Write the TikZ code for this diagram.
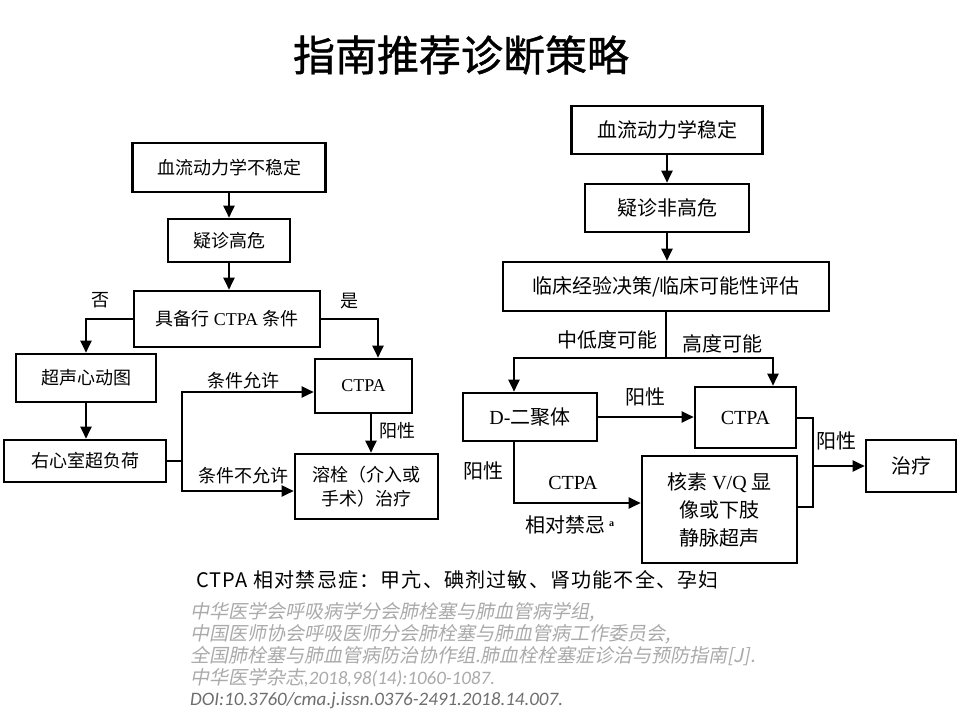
\documentclass[tikz,border=0pt]{standalone}
\usepackage{fontspec}
\setmainfont{Liberation Serif}
\newfontfamily\cjk{Noto Sans CJK SC}
\newfontfamily\notecjk[LetterSpace=6]{Noto Sans CJK SC}
\newfontfamily\titlezh[FakeBold=1]{Noto Sans CJK SC}
\newfontfamily\citezh[FakeSlant=0.2]{Noto Sans CJK SC}
\newfontfamily\citela{Carlito}
\usetikzlibrary{arrows.meta}
\definecolor{citegray}{RGB}{170,170,170}
\definecolor{doigray}{RGB}{110,110,110}
\begin{document}
\begin{tikzpicture}[x=1pt,y=-1pt,
 box/.style={draw=black, line width=2.6pt, rectangle, inner sep=0pt, align=center, font=\fontsize{18}{24}\selectfont},
 rbox/.style={box, font=\fontsize{20}{28}\selectfont},
 lbl/.style={inner sep=0pt, font=\fontsize{18}{22}\selectfont},
 rlbl/.style={inner sep=0pt, font=\fontsize{20}{24}\selectfont},
 arr/.style={line width=2pt, -{Triangle[length=12pt,width=11pt]}},
 ln/.style={line width=2pt},
 citestyle/.style={anchor=west, inner sep=0pt, text=citegray, font=\citezh\fontsize{19}{22}\selectfont}]
\fill[white] (0,0) rectangle (960,720);
\useasboundingbox (0,0) rectangle (960,720);

% title
\node[font=\titlezh\fontsize{42}{50}\selectfont] (title) at (461,55) {指南推荐诊断策略};

% left chart
\node[box, minimum width=193pt, minimum height=49pt] (L1) at (229,167.5) {\cjk 血流动力学不稳定};
\node[box, minimum width=122pt, minimum height=43pt] (L2) at (229,240.5) {\cjk 疑诊高危};
\node[box, minimum width=186pt, minimum height=56pt] (L3) at (227,319) {{\cjk 具备行} CTPA {\cjk 条件}};
\node[box, minimum width=140pt, minimum height=48pt] (L4) at (86,378) {\cjk 超声心动图};
\node[box, minimum width=162pt, minimum height=42pt] (L5) at (85,461) {\cjk 右心室超负荷};
\node[box, minimum width=97pt, minimum height=54pt] (L6) at (363.5,386) {CTPA};
\node[box, minimum width=143pt, minimum height=65pt] (L7) at (366.5,486.5) {{\cjk 溶栓（介入或}\\{\cjk 手术）治疗}};

\draw[arr] (L1.south) -- (L1.south |- L2.north);
\draw[arr] (L2.south) -- (L2.south |- L3.north);
\draw[arr] (L3.west) -| (L4.north);
\draw[arr] (L3.east) -| ([xshift=14.5pt]L6.north);
\draw[arr] (L4.south) -- (L4.south |- L5.north);
\coordinate (s1) at (182,461);
\draw[ln] (L5.east) -- (s1);
\draw[arr] (s1) |- ([yshift=-6pt]L6.west);
\draw[arr] (s1) |- ([yshift=-4.5pt]L7.west);
\draw[arr] ([xshift=7.5pt]L6.south) -- ([xshift=7.5pt]L6.south |- L7.north);

\node[lbl] (no) at (100,300) {\cjk 否};
\node[lbl] (yes) at (349,301) {\cjk 是};
\node[lbl] (c1) at (243,381) {\cjk 条件允许};
\node[lbl] (c2) at (243,476) {\cjk 条件不允许};
\node[lbl] (p1) at (397,431) {\cjk 阳性};

% right chart
\node[rbox, minimum width=191pt, minimum height=48pt] (R1) at (667,130) {\cjk 血流动力学稳定};
\node[rbox, minimum width=164pt, minimum height=48pt] (R2) at (667,208) {\cjk 疑诊非高危};
\node[rbox, minimum width=326pt, minimum height=49pt] (R3) at (666,286.5) {\cjk 临床经验决策/临床可能性评估};
\node[rbox, minimum width=134pt, minimum height=48pt] (D) at (530,417) {D-{\cjk 二聚体}};
\node[rbox, minimum width=101pt, minimum height=61pt] (RC) at (745.5,417.5) {CTPA};
\node[rbox, minimum width=155pt, minimum height=107pt] (N) at (719.5,509.5) {{\cjk 核素} V/Q {\cjk 显}\\{\cjk 像或下肢}\\{\cjk 静脉超声}};
\node[rbox, minimum width=90pt, minimum height=52pt] (T) at (911,466) {\cjk 治疗};

\draw[arr] (R1.south) -- (R1.south |- R2.north);
\draw[arr] (R2.south) -- (R2.south |- R3.north);
\coordinate (m) at (666,358);
\draw[ln] (R3.south) -- (m);
\draw[arr] (m) -| ([xshift=-16pt]D.north);
\draw[arr] (m) -| ([xshift=27.5pt]RC.north);
\draw[arr] (D.east) -- (D.east -| RC.west);
\draw[arr] ([xshift=-16pt]D.south) |- ([yshift=6.5pt]N.west);
\coordinate (jt) at (813,466);
\draw[ln] (RC.east) -| (jt);
\draw[ln] ([yshift=2.5pt]N.east) -| (jt);
\draw[arr] (jt) -- (T.west);

\node[rlbl, anchor=east] (lo) at (658,340) {\cjk 中低度可能};
\node[rlbl] (hi) at (722,344) {\cjk 高度可能};
\node[rlbl] (p2) at (645,397) {\cjk 阳性};
\node[rlbl] (p3) at (483,471) {\cjk 阳性};
\node[rlbl] (ct) at (573,483) {CTPA};
\node[rlbl] (rc) at (570,525) {{\cjk 相对禁忌}\,\raisebox{6pt}{\fontsize{10}{10}\selectfont\bfseries a}};
\node[rlbl] (p4) at (836,441) {\cjk 阳性};

% bottom notes
\node[anchor=west, inner sep=0pt, font=\notecjk\fontsize{20}{22}\selectfont] (ci) at (196,580) {CTPA 相对禁忌症：甲亢、碘剂过敏、肾功能不全、孕妇};
\node[citestyle] (r1) at (190,612) {中华医学会呼吸病学分会肺栓塞与肺血管病学组,};
\node[citestyle] (r2) at (190,634) {中国医师协会呼吸医师分会肺栓塞与肺血管病工作委员会,};
\node[citestyle] (r3) at (190,656) {全国肺栓塞与肺血管病防治协作组.肺血栓栓塞症诊治与预防指南[J].};
\node[citestyle] (r4) at (190,678) {中华医学杂志{\citela\itshape ,2018,98(14):1060-1087.}};
\node[citestyle, text=doigray] (r5) at (190,701) {{\citela\itshape DOI:10.3760/cma.j.issn.0376-2491.2018.14.007.}};
\end{tikzpicture}
\end{document}
